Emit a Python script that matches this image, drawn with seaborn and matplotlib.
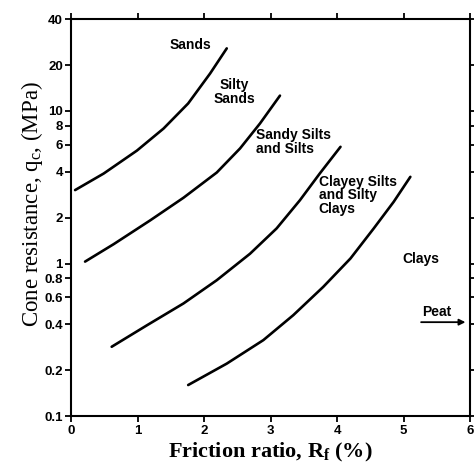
import numpy as np
import pandas as pd
import matplotlib
matplotlib.use("Agg")
import matplotlib.pyplot as plt
import seaborn as sns

# ── Data ─────────────────────────────────────────────────────────────────────

# boundary 1: Sands / Silty Sands
b1_rf = [0.06, 0.49, 0.99, 1.39, 1.76, 2.09, 2.34]
b1_qc = [3.03, 3.89, 5.5, 7.67, 11.2, 17.6, 25.7]

# boundary 2: Silty Sands / Sandy Silts
b2_rf = [0.21, 0.64, 1.19, 1.69, 2.19, 2.54, 2.84, 3.14]
b2_qc = [1.03, 1.34, 1.92, 2.7, 3.95, 5.68, 8.28, 12.6]

# boundary 3: Sandy Silts / Clayey Silts
b3_rf = [0.61, 1.14, 1.69, 2.19, 2.69, 3.09, 3.44, 3.74, 4.05]
b3_qc = [0.285, 0.394, 0.548, 0.778, 1.16, 1.70, 2.60, 3.9, 5.82]

# boundary 4: Clayey Silts / Clays
b4_rf = [1.76, 2.34, 2.89, 3.34, 3.79, 4.20, 4.55, 4.85, 5.10]
b4_qc = [0.160, 0.221, 0.315, 0.459, 0.703, 1.08, 1.70, 2.54, 3.70]

zone_labels = ["Sands", "Silty\nSands", "Sandy Silts\nand Silts",
               "Clayey Silts\nand Silty\nClays", "Clays", "Peat"]
zone_rf = [1.79, 2.45, 2.78, 3.72, 5.26, 5.50]
zone_qc = [27.0, 13.3, 6.25, 2.81, 1.07, 0.48]

x_ticks = [0, 1, 2, 3, 4, 5, 6]
y_ticks = [0.1, 0.2, 0.4, 0.6, 0.8, 1, 2, 4, 6, 8, 10, 20, 40]
y_tick_labels = ["0.1", "0.2", "0.4", "0.6", "0.8", "1", "2", "4", "6", "8",
                 "10", "20", "40"]

# ── Plot ─────────────────────────────────────────────────────────────────────

sns.set_theme(style="ticks")
plt.rcParams["font.family"] = ["Liberation Sans", "DejaVu Sans"]
plt.rcParams.update({"text.color": "black", "axes.labelcolor": "black",
                     "xtick.color": "black", "ytick.color": "black"})

df = pd.concat([
    pd.DataFrame({"rf": rf, "qc": qc, "boundary": name})
    for name, rf, qc in [("b1", b1_rf, b1_qc), ("b2", b2_rf, b2_qc),
                         ("b3", b3_rf, b3_qc), ("b4", b4_rf, b4_qc)]
])

fig = plt.figure(figsize=(4.74, 4.65), dpi=100)
ax = fig.add_axes([0.150, 0.105, 0.842, 0.854])

sns.lineplot(
    data=df, x="rf", y="qc", hue="boundary",
    palette=["black"] * 4, sort=False, estimator=None,
    linewidth=1.9, legend=False, ax=ax,
)

ax.set_yscale("log")
ax.set_xlim(0, 6)
ax.set_ylim(0.1, 40)
ax.set_xticks(x_ticks)
ax.set_xticklabels([str(t) for t in x_ticks], fontweight="bold", fontsize=9.5)
ax.set_yticks(y_ticks)
ax.set_yticklabels(y_tick_labels, fontweight="bold", fontsize=9.5)
ax.minorticks_off()

for side in ["left", "right", "top", "bottom"]:
    ax.spines[side].set_visible(True)
    ax.spines[side].set_linewidth(1.5)
    ax.spines[side].set_color("black")

ax.tick_params(axis="both", direction="out", length=4, width=1.3, pad=2)
ax.tick_params(axis="x", top=True, labeltop=False)
ax.tick_params(axis="y", right=True, labelright=False)

serif = ["Liberation Serif", "DejaVu Serif"]
ax.set_xlabel(r"Friction ratio, R$\mathregular{_f}$ (%)", fontsize=16,
              fontweight="bold", family=serif, labelpad=3)
ax.set_ylabel(r"Cone resistance, q$\mathregular{_c}$, (MPa)", fontsize=16.5,
              family=serif)
ax.yaxis.set_label_coords(-0.065, 0.535)

# zone annotations
for i, (lab, rf, qc) in enumerate(zip(zone_labels, zone_rf, zone_qc)):
    ha = "center" if i in (0, 1, 4, 5) else "left"
    ax.text(rf, qc, lab, ha=ha, va="center", fontsize=10, fontweight="bold",
            linespacing=0.95, multialignment="center" if i == 1 else "left")

# peat arrow
ax.annotate("", xy=(5.97, 0.413), xytext=(5.22, 0.413),
            arrowprops=dict(arrowstyle="-|>", color="black", lw=1.3,
                            mutation_scale=9))

fig.savefig("out.png", dpi=100)
plt.close(fig)
